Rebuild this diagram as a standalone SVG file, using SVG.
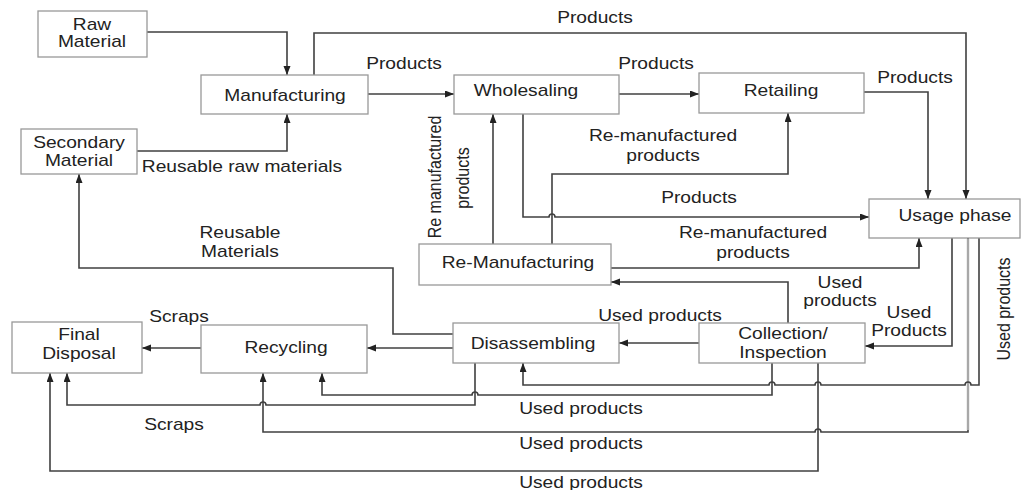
<svg xmlns="http://www.w3.org/2000/svg" width="1022" height="490" viewBox="0 0 1022 490">
<style>
.box{fill:#fff;stroke:#999;stroke-width:1.3}
.t{font-family:"Liberation Sans",Arial,sans-serif;font-size:16px;fill:#222;text-anchor:middle}
.c{fill:none;stroke:#404040;stroke-width:1.6;marker-end:url(#ah)}
.cn{fill:none;stroke:#404040;stroke-width:1.6}
.g{fill:none;stroke:#a8a8a8;stroke-width:2.4}
</style>
<defs>
<marker id="ah" markerUnits="userSpaceOnUse" markerWidth="10" markerHeight="8" refX="9" refY="3.5" orient="auto">
<path d="M0,0 L9,3.5 L0,7 z" fill="#222"/>
</marker>
</defs>
<rect width="1022" height="490" fill="#fff"/>
<g id="connectors">
<path class="c" d="M147,32 H287 V75"/>
<path class="c" d="M137,151 H287 V114"/>
<path class="c" d="M314,75 V33 H966 V199"/>
<path class="c" d="M368,94 H454"/>
<path class="c" d="M619,94 H699"/>
<path class="c" d="M864,92 H928 V199"/>
<path class="c" d="M523,114 V217 H549 a3,3 0 0 1 6,0 H869"/>
<path class="c" d="M493,244 V114"/>
<path class="c" d="M552,244 V174 H788 V113"/>
<path class="c" d="M611,268 H919 V238"/>
<path class="c" d="M788,323 V282 H611"/>
<path class="c" d="M699,343 H619"/>
<path class="c" d="M952,238 V346 H865"/>
<path class="c" d="M968,238 V432 H821 a3,3 0 0 0 -6,0 H263 V373"/>
<path class="g" d="M968,239 V430"/>
<path class="c" d="M979,238 V385 H971 a3,3 0 0 0 -6,0 H821 a3,3 0 0 0 -6,0 H775 a3,3 0 0 0 -6,0 H523 V363"/>
<path class="c" d="M772,363 V395 H478 a3,3 0 0 0 -6,0 H322 V373"/>
<path class="c" d="M475,363 V405 H266 a3,3 0 0 0 -6,0 H67 V373"/>
<path class="c" d="M818,363 V471 H50 V373"/>
<path class="c" d="M453,348 H367"/>
<path class="c" d="M201,348 H142"/>
<path class="c" d="M453,334 H393 V268 H79 V174"/>
</g>
<g id="labels" class="t">
<text transform="translate(595 23) scale(1.2 1)">Products</text>
<text transform="translate(404 69) scale(1.2 1)">Products</text>
<text transform="translate(656 69) scale(1.2 1)">Products</text>
<text transform="translate(915 83) scale(1.2 1)">Products</text>
<text transform="translate(663 141) scale(1.2 1)">Re-manufactured</text>
<text transform="translate(663 161) scale(1.2 1)">products</text>
<text transform="translate(699 203) scale(1.2 1)">Products</text>
<text transform="translate(753 238) scale(1.2 1)">Re-manufactured</text>
<text transform="translate(753 258) scale(1.2 1)">products</text>
<text transform="translate(441 177) scale(1.2 1) rotate(-90)">Re manufactured</text>
<text transform="translate(469 178) scale(1.2 1) rotate(-90)">products</text>
<text transform="translate(242 172) scale(1.2 1)">Reusable raw materials</text>
<text transform="translate(240 238) scale(1.2 1)">Reusable</text>
<text transform="translate(240 257) scale(1.2 1)">Materials</text>
<text transform="translate(179 322) scale(1.2 1)">Scraps</text>
<text transform="translate(174 430) scale(1.2 1)">Scraps</text>
<text transform="translate(660 321) scale(1.2 1)">Used products</text>
<text transform="translate(840 288) scale(1.2 1)">Used</text>
<text transform="translate(840 306) scale(1.2 1)">products</text>
<text transform="translate(909 318) scale(1.2 1)">Used</text>
<text transform="translate(909 336) scale(1.2 1)">Products</text>
<text transform="translate(1010 309) scale(1.2 1) rotate(-90)">Used products</text>
<text transform="translate(581 414) scale(1.2 1)">Used products</text>
<text transform="translate(581 449) scale(1.2 1)">Used products</text>
<text transform="translate(581 488) scale(1.2 1)">Used products</text>
</g>
<g id="raw-material">
<rect class="box" x="38" y="11" width="109" height="46"/>
<text class="t" transform="translate(92 30) scale(1.2 1)">Raw</text>
<text class="t" transform="translate(92 47) scale(1.2 1)">Material</text>
</g>
<g id="manufacturing">
<rect class="box" x="201" y="75" width="167" height="39"/>
<text class="t" transform="translate(285 101) scale(1.2 1)">Manufacturing</text>
</g>
<g id="secondary-material">
<rect class="box" x="21" y="129" width="116" height="45"/>
<text class="t" transform="translate(79 148) scale(1.2 1)">Secondary</text>
<text class="t" transform="translate(79 166) scale(1.2 1)">Material</text>
</g>
<g id="wholesaling">
<rect class="box" x="454" y="75" width="165" height="39"/>
<text class="t" transform="translate(526 96) scale(1.2 1)">Wholesaling</text>
</g>
<g id="retailing">
<rect class="box" x="699" y="73" width="165" height="40"/>
<text class="t" transform="translate(781 96) scale(1.2 1)">Retailing</text>
</g>
<g id="usage-phase">
<rect class="box" x="869" y="199" width="151" height="39"/>
<text class="t" transform="translate(955 221) scale(1.2 1)">Usage phase</text>
</g>
<g id="re-manufacturing">
<rect class="box" x="419" y="244" width="192" height="41"/>
<text class="t" transform="translate(518 268) scale(1.2 1)">Re-Manufacturing</text>
</g>
<g id="disassembling">
<rect class="box" x="453" y="323" width="166" height="40"/>
<text class="t" transform="translate(533 349) scale(1.2 1)">Disassembling</text>
</g>
<g id="collection-inspection">
<rect class="box" x="699" y="323" width="166" height="40"/>
<text class="t" transform="translate(783 339) scale(1.2 1)">Collection/</text>
<text class="t" transform="translate(783 358) scale(1.2 1)">Inspection</text>
</g>
<g id="recycling">
<rect class="box" x="201" y="325" width="166" height="48"/>
<text class="t" transform="translate(286 353) scale(1.2 1)">Recycling</text>
</g>
<g id="final-disposal">
<rect class="box" x="12" y="322" width="130" height="51"/>
<text class="t" transform="translate(79 340) scale(1.2 1)">Final</text>
<text class="t" transform="translate(79 359) scale(1.2 1)">Disposal</text>
</g>
</svg>
